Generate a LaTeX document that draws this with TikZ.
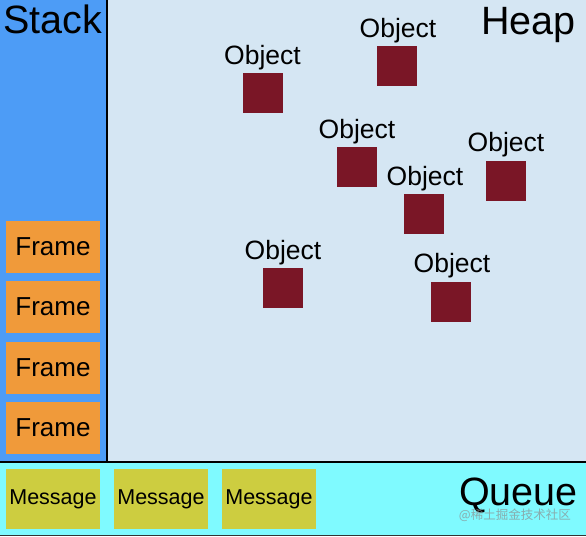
\documentclass[tikz,border=0pt]{standalone}
\usepackage{fontspec}
\setmainfont{Liberation Sans}
\newfontfamily\cjkwm{Noto Sans CJK SC}
\definecolor{stackblue}{RGB}{77,156,246}
\definecolor{heapbg}{RGB}{213,230,243}
\definecolor{queuecyan}{RGB}{127,250,255}
\definecolor{frameorange}{RGB}{240,154,58}
\definecolor{msgolive}{RGB}{205,205,64}
\definecolor{objred}{RGB}{122,22,38}
\begin{document}
\begin{tikzpicture}[x=1pt,y=-1pt,
  framebox/.style={fill=frameorange,draw=none,minimum width=94pt,minimum height=52pt,inner sep=0pt,font=\fontsize{26}{26}\selectfont},
  msgbox/.style={fill=msgolive,draw=none,minimum width=94pt,minimum height=60pt,inner sep=0pt,font=\fontsize{21.5}{21.5}\selectfont},
  objbox/.style={fill=objred,draw=none,minimum width=40pt,minimum height=40pt,inner sep=0pt},
  objlabel/.style={anchor=base,inner sep=0pt,font=\fontsize{26.5}{26.5}\selectfont},
  bigtitle/.style={inner sep=0pt,font=\fontsize{39.5}{39.5}\selectfont}]
\useasboundingbox (0,0) rectangle (586,536);
% regions
\fill[heapbg] (0,0) rectangle (586,462);
\fill[stackblue] (0,0) rectangle (107,462);
\fill[queuecyan] (0,462) rectangle (586,536);
\draw[line width=2pt] (107,0) -- (107,462);
\draw[line width=2pt] (0,462) -- (586,462);
\draw[line width=1pt,black!80] (0,535.5) -- (586,535.5);
% titles
\node[bigtitle,anchor=base west] (stacktitle) at (3,33) {Stack};
\node[bigtitle,anchor=base east] (heaptitle) at (576,34) {Heap};
\node[bigtitle,anchor=base east] (queuetitle) at (578,505) {Queue};
% frames
\node[framebox] (f1) at (53,247) {Frame};
\node[framebox] (f2) at (53,307) {Frame};
\node[framebox] (f3) at (53,368) {Frame};
\node[framebox] (f4) at (53,428) {Frame};
% messages
\node[msgbox] (m1) at (53,499) {Message};
\node[msgbox] (m2) at (161,499) {Message};
\node[msgbox] (m3) at (269,499) {Message};
% objects
\node[objbox] (o1) at (262.5,93) {};
\node[objlabel] (l1) at (262.5,64) {Object};
\node[objbox] (o2) at (397,66) {};
\node[objlabel] (l2) at (398,37) {Object};
\node[objbox] (o3) at (357,167) {};
\node[objlabel] (l3) at (357,138) {Object};
\node[objbox] (o4) at (506,181) {};
\node[objlabel] (l4) at (506,151) {Object};
\node[objbox] (o5) at (424,214) {};
\node[objlabel] (l5) at (425,185) {Object};
\node[objbox] (o6) at (283,288) {};
\node[objlabel] (l6) at (283,259) {Object};
\node[objbox] (o7) at (451,302) {};
\node[objlabel] (l7) at (452,272) {Object};
% watermark
\node[anchor=base east,inner sep=0pt,text=black!45,opacity=0.7,font=\cjkwm\fontsize{12.5}{12.5}\selectfont] (wm) at (571,519) {@稀土掘金技术社区};
\end{tikzpicture}
\end{document}
